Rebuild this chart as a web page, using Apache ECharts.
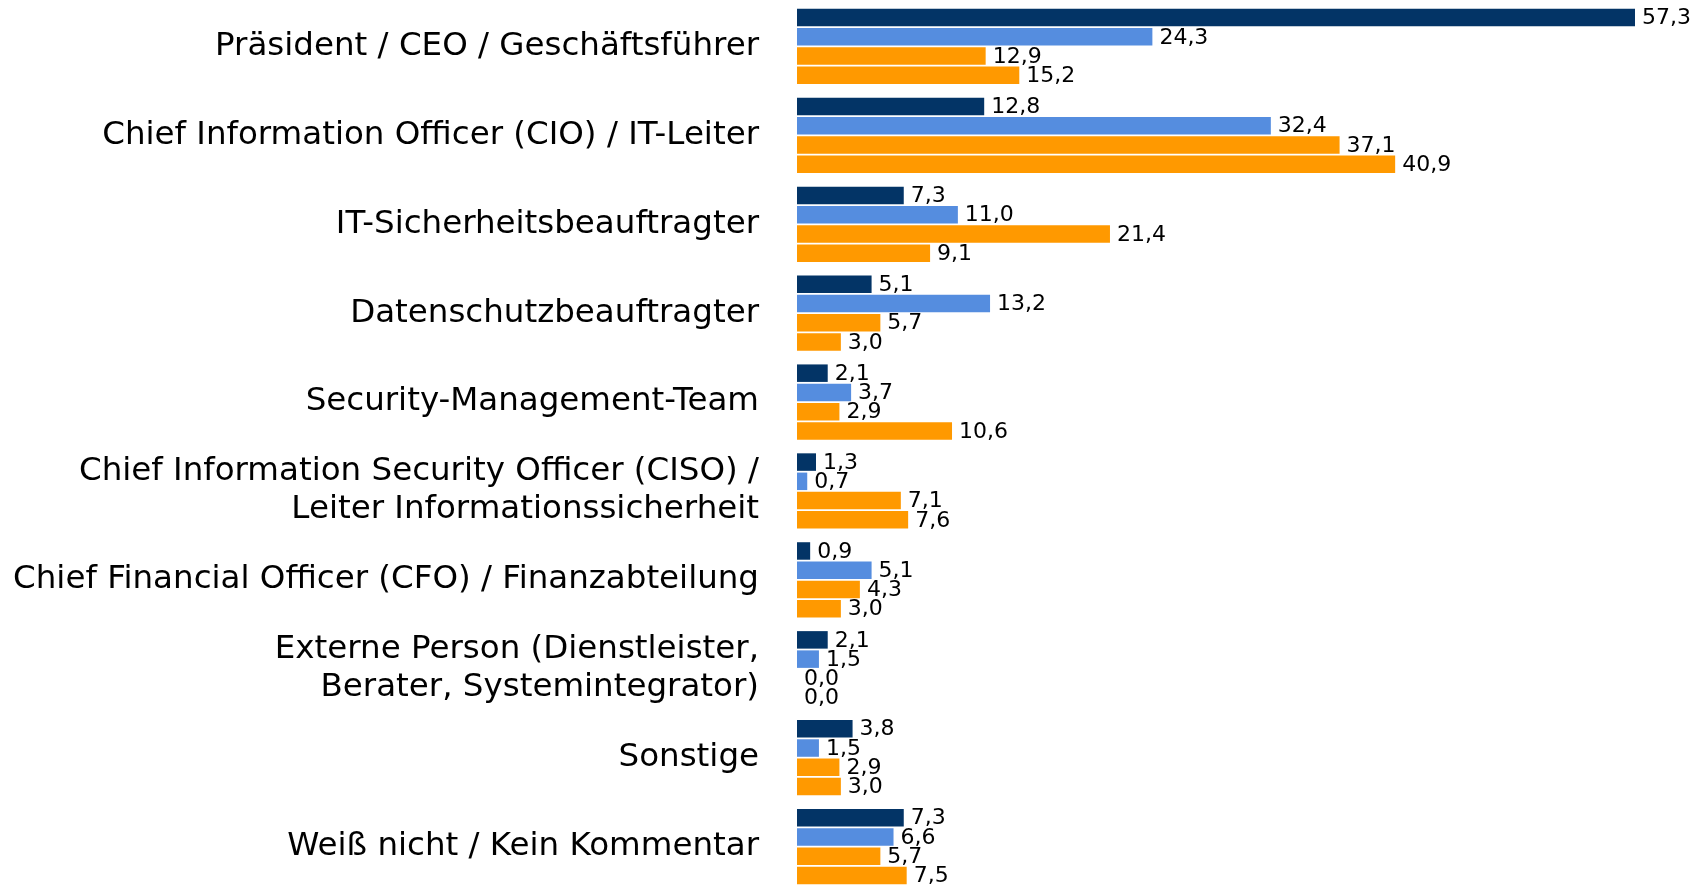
<!DOCTYPE html>
<html>
<head>
<meta charset="utf-8">
<script src="https://cdn.jsdelivr.net/npm/echarts@6/dist/echarts.min.js"></script>
<style>
	html, body { margin: 0; padding: 0; background: #fff; }
	#chart { width: 1699px; height: 885px; }
</style>
</head>
<body>
<div id="chart"></div>
<script>
// Kategorien von oben nach unten
let categories = [
	'Präsident / CEO / Geschäftsführer',
	'Chief Information Officer (CIO) / IT-Leiter',
	'IT-Sicherheitsbeauftragter',
	'Datenschutzbeauftragter',
	'Security-Management-Team',
	'Chief Information Security Officer (CISO) /\nLeiter Informationssicherheit',
	'Chief Financial Officer (CFO) / Finanzabteilung',
	'Externe Person (Dienstleister,\nBerater, Systemintegrator)',
	'Sonstige',
	'Weiß nicht / Kein Kommentar',
];
let series_names = ['Reihe 1', 'Reihe 2', 'Reihe 3', 'Reihe 4'];
let values_1 = [57.3, 12.8, 7.3, 5.1, 2.1, 1.3, 0.9, 2.1, 3.8, 7.3];
let values_2 = [24.3, 32.4, 11.0, 13.2, 3.7, 0.7, 5.1, 1.5, 1.5, 6.6];
let values_3 = [12.9, 37.1, 21.4, 5.7, 2.9, 7.1, 4.3, 0.0, 2.9, 5.7];
let values_4 = [15.2, 40.9, 9.1, 3.0, 10.6, 7.6, 3.0, 0.0, 3.0, 7.5];
let colors = ['#033466', '#558ddf', '#ff9900', '#ff9900'];

let chart = echarts.init(document.getElementById('chart'));

// eine Balkenreihe mit Beschriftung rechts (Komma als Dezimalzeichen)
function bar_series(name, data, color) {
	return {
		name: name,
		type: 'bar',
		data: data,
		barWidth: 17.5,
		barGap: '10%',
		itemStyle: { color: color },
		label: {
			show: true,
			position: 'right',
			distance: 7,
			offset: [0, 1],
			color: '#000',
			fontFamily: 'DejaVu Sans',
			fontSize: 22,
			formatter: (p) => p.value.toFixed(1).replace('.', ','),
		},
		animation: false,
	};
}

let option = {
	backgroundColor: '#fff',
	grid: {
		left: 797,
		right: 64,
		top: 2,
		height: 889,
		outerBoundsMode: 'none',
	},
	xAxis: {
		type: 'value',
		min: 0,
		max: 'dataMax',
		show: false,
	},
	yAxis: {
		type: 'category',
		data: categories,
		inverse: true,
		axisLine: { show: false },
		axisTick: { show: false },
		splitLine: { show: false },
		axisLabel: {
			color: '#000',
			fontFamily: 'DejaVu Sans',
			fontSize: 32.5,
			lineHeight: 38,
			align: 'right',
			margin: 38,
			padding: [5, 0, 0, 0],
		},
	},
	series: [
		bar_series(series_names[0], values_1, colors[0]),
		bar_series(series_names[1], values_2, colors[1]),
		bar_series(series_names[2], values_3, colors[2]),
		bar_series(series_names[3], values_4, colors[3]),
	],
};
chart.setOption(option);
</script>
</body>
</html>
